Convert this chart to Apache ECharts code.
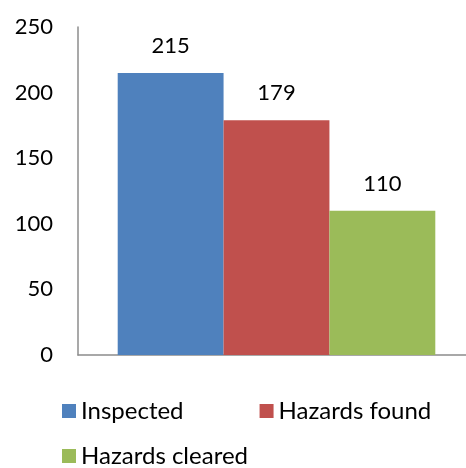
<!DOCTYPE html>
<html><head><meta charset="utf-8">
<script src="https://cdn.jsdelivr.net/npm/echarts@6/dist/echarts.min.js"></script>
<style>html,body{margin:0;padding:0;background:#fff}#c{width:466px;height:468px}</style>
</head><body><div id="c"></div>
<script>
const categories = [''];
const seriesNames = ['Inspected', 'Hazards found', 'Hazards cleared'];
const inspected = [215];
const hazardsFound = [179];
const hazardsCleared = [110];
const yTicks = [0, 50, 100, 150, 200, 250];
const colors = ['#4F81BD', '#C0504D', '#9BBB59'];
const values = [inspected, hazardsFound, hazardsCleared];

const font = 'Lato';
const chart = echarts.init(document.getElementById('c'));
chart.setOption({
  animation: false,
  textStyle: { fontFamily: font },
  grid: { left: 78, width: 397, top: 27, bottom: 113, containLabel: false, outerBoundsMode: 'none' },
  xAxis: {
    type: 'category', data: categories,
    axisLine: { show: true, lineStyle: { color: '#8c8c8c', width: 1.5 } },
    axisTick: { show: false }, axisLabel: { show: false }
  },
  yAxis: {
    type: 'value', min: yTicks[0], max: yTicks[yTicks.length - 1], interval: 50,
    axisLine: { show: true, lineStyle: { color: '#8c8c8c', width: 1.5 } },
    axisTick: { show: false }, splitLine: { show: false },
    axisLabel: { margin: 25, color: '#000', fontSize: 22, fontFamily: font }
  },
  legend: [
    { data: seriesNames.slice(0, 2), left: 57, top: 394, itemGap: 76, itemWidth: 14, itemHeight: 14,
      icon: 'rect', itemTextGap: 7, textStyle: { fontSize: 24, color: '#000', fontFamily: font } },
    { data: seriesNames.slice(2), left: 57, top: 439, itemWidth: 14, itemHeight: 14,
      icon: 'rect', itemTextGap: 7, textStyle: { fontSize: 24, color: '#000', fontFamily: font } }
  ],
  series: seriesNames.map((n, i) => ({
    name: n, type: 'bar', data: values[i], barGap: '0%', barCategoryGap: '20%',
    itemStyle: { color: colors[i] },
    label: { show: true, position: 'top', distance: 16, color: '#000', fontSize: 22, fontFamily: font }
  }))
});
</script></body></html>
